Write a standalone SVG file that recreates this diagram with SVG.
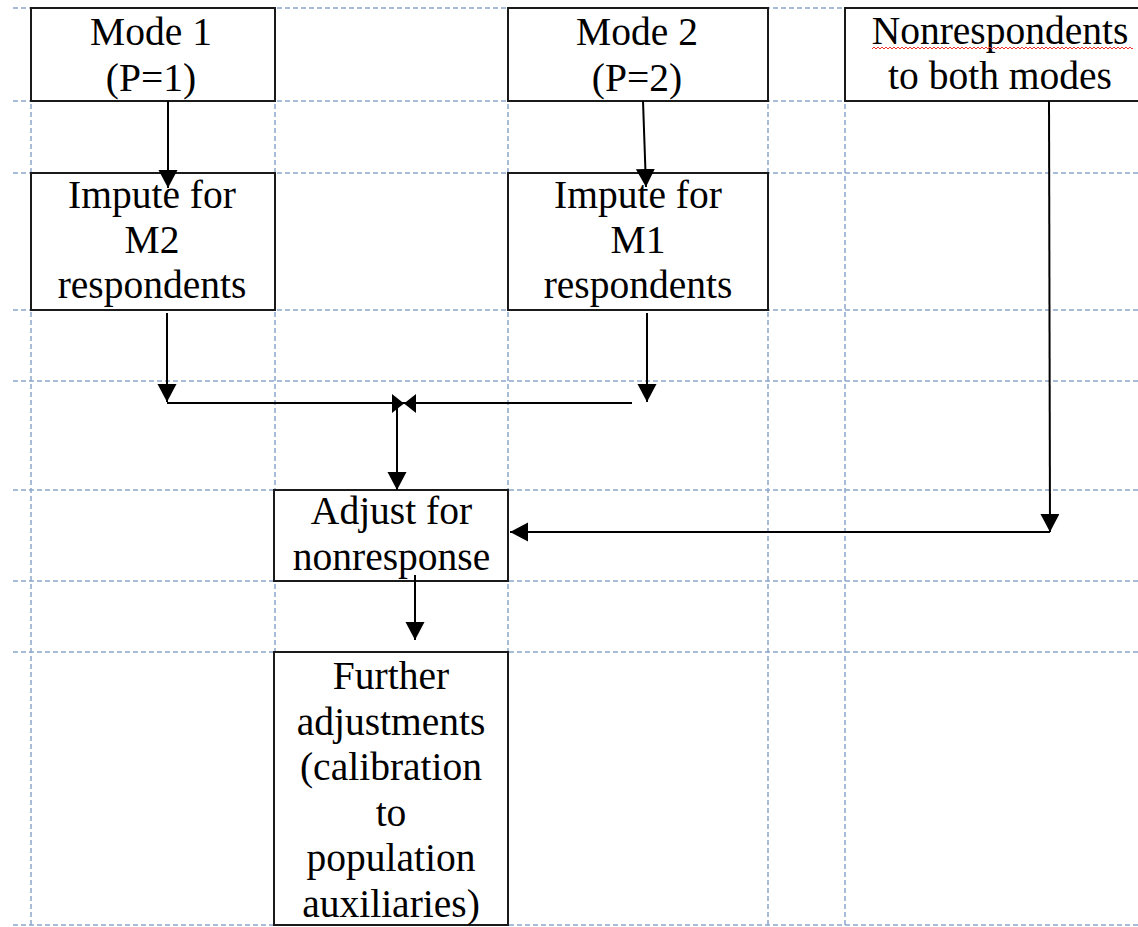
<svg xmlns="http://www.w3.org/2000/svg" width="1138" height="927" viewBox="0 0 1138 927">
<style>
.grid{stroke:#8ca6cc;stroke-width:1.5;stroke-dasharray:5 3;fill:none}
.box{fill:#fff;stroke:#1a1a1a;stroke-width:2}
.lbl{font-size:39.5px;fill:#000;text-anchor:middle}
.conn{stroke:#000;stroke-width:2;fill:none}
</style>
<defs>
<marker id="ah" markerUnits="userSpaceOnUse" markerWidth="20" markerHeight="20" refX="18" refY="9.5" orient="auto">
<path d="M0,0 L18,9.5 L0,19 z" fill="#000"/>
</marker>
<pattern id="wave" patternUnits="userSpaceOnUse" width="4" height="4" x="872" y="46">
<polyline points="0,3 2,1 4,3" fill="none" stroke="#e33" stroke-width="1"/>
</pattern>
</defs>
<rect width="1138" height="927" fill="#fff"/>
<g id="grid">
<line class="grid" x1="13" y1="8" x2="1138" y2="8"/>
<line class="grid" x1="13" y1="101" x2="1138" y2="101"/>
<line class="grid" x1="13" y1="173" x2="1138" y2="173"/>
<line class="grid" x1="13" y1="310" x2="1138" y2="310"/>
<line class="grid" x1="13" y1="381" x2="1138" y2="381"/>
<line class="grid" x1="13" y1="490" x2="1138" y2="490"/>
<line class="grid" x1="13" y1="581" x2="1138" y2="581"/>
<line class="grid" x1="13" y1="652" x2="1138" y2="652"/>
<line class="grid" x1="13" y1="925" x2="1138" y2="925"/>
<line class="grid" x1="31" y1="8" x2="31" y2="927"/>
<line class="grid" x1="275" y1="8" x2="275" y2="927"/>
<line class="grid" x1="508" y1="8" x2="508" y2="927"/>
<line class="grid" x1="768" y1="8" x2="768" y2="927"/>
<line class="grid" x1="845" y1="8" x2="845" y2="927"/>
</g>
<g id="nodes" font-family="Liberation Serif, Times New Roman, DejaVu Serif, serif">
<g id="mode1">
<rect class="box" x="31" y="8" width="244" height="93"/>
<text class="lbl" x="151" y="45">Mode 1</text>
<text class="lbl" x="151" y="91">(P=1)</text>
</g>
<g id="mode2">
<rect class="box" x="508" y="8" width="260" height="93"/>
<text class="lbl" x="637" y="45">Mode 2</text>
<text class="lbl" x="637" y="91">(P=2)</text>
</g>
<g id="nonresp">
<rect class="box" x="845" y="8" width="310" height="93"/>
<text class="lbl" x="1000" y="44">Nonrespondents</text>
<rect x="872" y="46" width="261" height="4" fill="url(#wave)"/>
<text class="lbl" x="1000" y="89">to both modes</text>
</g>
<g id="impute-m2">
<rect class="box" x="31" y="173" width="244" height="137"/>
<text class="lbl" x="152" y="208">Impute for</text>
<text class="lbl" x="152" y="253">M2</text>
<text class="lbl" x="152" y="298">respondents</text>
</g>
<g id="impute-m1">
<rect class="box" x="508" y="173" width="260" height="137"/>
<text class="lbl" x="638" y="208">Impute for</text>
<text class="lbl" x="638" y="253">M1</text>
<text class="lbl" x="638" y="298">respondents</text>
</g>
<g id="adjust">
<rect class="box" x="274" y="490" width="234" height="91"/>
<text class="lbl" x="391.5" y="524">Adjust for</text>
<text class="lbl" x="391.5" y="570">nonresponse</text>
</g>
<g id="further">
<rect class="box" x="274" y="652" width="234" height="273"/>
<text class="lbl" x="391" y="689">Further</text>
<text class="lbl" x="391" y="734.5">adjustments</text>
<text class="lbl" x="391" y="780">(calibration</text>
<text class="lbl" x="391" y="825.5">to</text>
<text class="lbl" x="391" y="871">population</text>
<text class="lbl" x="391" y="916.5">auxiliaries)</text>
</g>
</g>
<g id="connectors">
<line class="conn" x1="168" y1="101" x2="168" y2="188" marker-end="url(#ah)"/>
<line class="conn" x1="643" y1="101" x2="646" y2="187" marker-end="url(#ah)"/>
<line class="conn" x1="167" y1="313" x2="167" y2="402" marker-end="url(#ah)"/>
<line class="conn" x1="647" y1="313" x2="647" y2="402" marker-end="url(#ah)"/>
<line class="conn" x1="167" y1="403" x2="632" y2="403"/>
<polygon points="392,394 392,413 404,403.5" fill="#000"/>
<polygon points="416,394 416,413 404,403.5" fill="#000"/>
<line class="conn" x1="397" y1="403" x2="397" y2="490" marker-end="url(#ah)"/>
<line class="conn" x1="415" y1="575" x2="415" y2="640" marker-end="url(#ah)"/>
<line class="conn" x1="1049" y1="101" x2="1050" y2="532" marker-end="url(#ah)"/>
<line class="conn" x1="1050" y1="532" x2="510" y2="532" marker-end="url(#ah)"/>
</g>
</svg>
